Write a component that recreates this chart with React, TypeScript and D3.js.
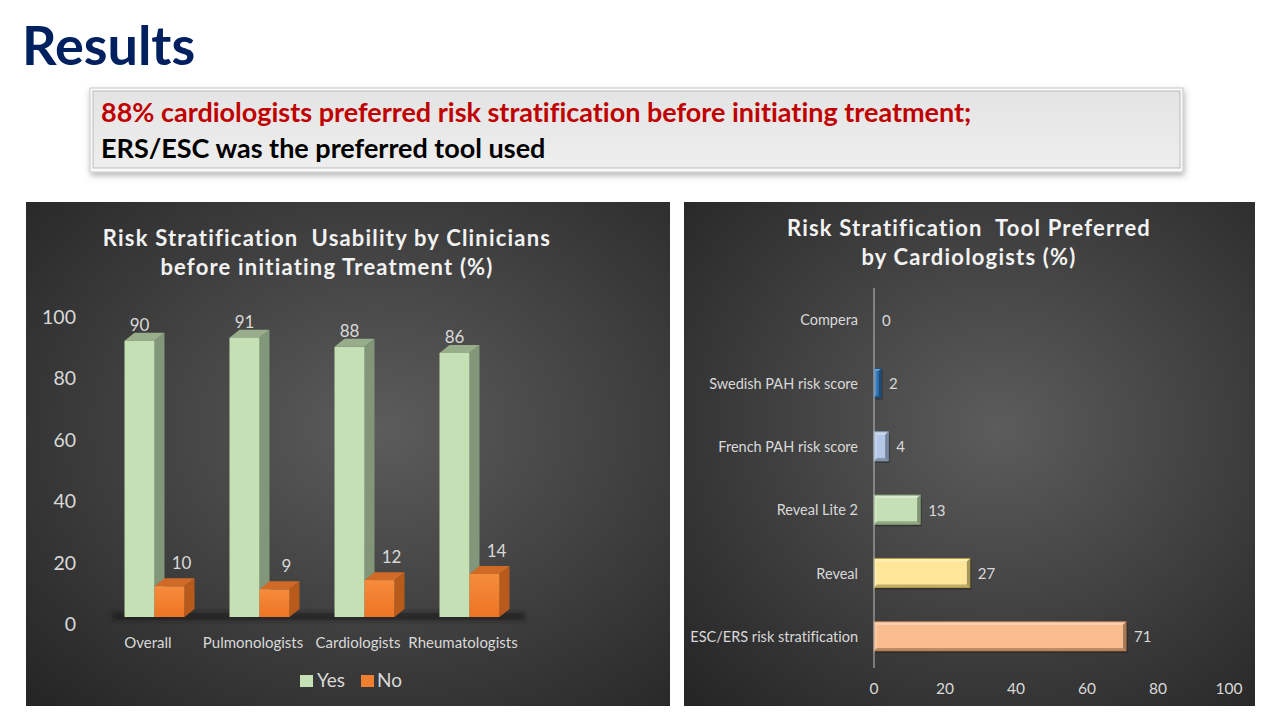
import React from 'react'
import * as d3 from 'd3'

// Left chart: usability of risk stratification by clinician group
const clinicianGroups = ['Overall', 'Pulmonologists', 'Cardiologists', 'Rheumatologists']
const yesValues = [90, 91, 88, 86]
const noValues = [10, 9, 12, 14]
const usabilityTicks = [0, 20, 40, 60, 80, 100]

// Right chart: preferred tool by cardiologists
const toolNames = [
  'Compera',
  'Swedish PAH risk score',
  'French PAH risk score',
  'Reveal Lite 2',
  'Reveal',
  'ESC/ERS risk stratification'
]
const toolValues = [0, 2, 4, 13, 27, 71]
const toolTicks = [0, 20, 40, 60, 80, 100]

const toolFill = ['#5b9bd5', '#2e75b6', '#b4c7e7', '#c5e0b4', '#ffe699', '#f9bc8e']
const toolEdge = ['#41719c', '#1f4e79', '#7f93b5', '#86a373', '#b59a3a', '#b7764c']

const FONT = 'Lato, "Open Sans", sans-serif'
const LABEL = '#d9d9d9'

const UsabilityChart: React.FC = () => {
  const floor = 617
  const x = d3.scaleBand().domain(clinicianGroups).range([95.5, 515.5])
  const y = d3.scaleLinear().domain([0, 100]).range([floor, 310])
  const barW = 30
  const dx = 10
  const dy = 8

  const bar3d = (bx: number, value: number, front: string, side: string, top: string) => {
    const ty = y(value)
    return (
      <g>
        <polygon
          points={`${bx + barW},${ty} ${bx + barW + dx},${ty - dy} ${bx + barW + dx},${floor - dy} ${bx + barW},${floor}`}
          fill={side}
        />
        <polygon points={`${bx},${ty} ${bx + dx},${ty - dy} ${bx + barW + dx},${ty - dy} ${bx + barW},${ty}`} fill={top} />
        <rect x={bx} y={ty} width={barW} height={floor - ty} fill={front} />
      </g>
    )
  }

  return (
    <g fontFamily={FONT}>
      <rect x={26} y={202} width={644} height={504} fill="url(#panelBg)" />
      <text x={327} y={246} textAnchor="middle" fill="#f2f2f2" fontSize={22} fontWeight={700} letterSpacing={1.2} style={{ whiteSpace: 'pre' }}>
        {'Risk Stratification  Usability by Clinicians'}
      </text>
      <text x={327} y={275} textAnchor="middle" fill="#f2f2f2" fontSize={22} fontWeight={700} letterSpacing={1.2}>
        before initiating Treatment (%)
      </text>

      {usabilityTicks.map((t) => (
        <text key={t} x={76} y={y(t) + 6.5} textAnchor="end" dominantBaseline="central" fill={LABEL} fontSize={19.5}>
          {t}
        </text>
      ))}

      <rect x={112} y={613} width={413} height={7} fill="#141414" opacity={0.7} filter="url(#blur)" />

      {clinicianGroups.map((g, i) => {
        const bx = x(g) ?? 0
        return (
          <g key={g}>
            {bar3d(bx + 29, yesValues[i], '#c5e0b4', '#82977a', '#98ad8a')}
            {bar3d(bx + 59, noValues[i], 'url(#orangeFront)', '#b85a1c', '#d06a26')}
            <text x={bx + 29 + barW / 2} y={y(yesValues[i]) - 16} textAnchor="middle" dominantBaseline="central" fill={LABEL} fontSize={17}>
              {yesValues[i]}
            </text>
            <text x={bx + 59 + barW - 3} y={y(noValues[i]) - 24} textAnchor="middle" dominantBaseline="central" fill={LABEL} fontSize={17}>
              {noValues[i]}
            </text>
            <text x={bx + x.bandwidth() / 2} y={648} textAnchor="middle" fill={LABEL} fontSize={15}>
              {g}
            </text>
          </g>
        )
      })}

      <rect x={300} y={675} width={13} height={12} fill="#c5e0b4" />
      <text x={317} y={687} fill={LABEL} fontSize={19}>
        Yes
      </text>
      <rect x={361} y={675} width={13} height={12} fill="#f08030" />
      <text x={377} y={687} fill={LABEL} fontSize={19}>
        No
      </text>
    </g>
  )
}

const ToolChart: React.FC = () => {
  const x = d3.scaleLinear().domain([0, 100]).range([874, 1229])
  const y = d3.scaleBand().domain(toolNames).range([288, 668]).paddingInner(0.54).paddingOuter(0.27)
  const bh = y.bandwidth()
  const b = 3

  return (
    <g fontFamily={FONT}>
      <rect x={684} y={202} width={571} height={504} fill="url(#panelBg)" />
      <text x={969} y={236} textAnchor="middle" fill="#f2f2f2" fontSize={22} fontWeight={700} letterSpacing={1.2} style={{ whiteSpace: 'pre' }}>
        {'Risk Stratification  Tool Preferred'}
      </text>
      <text x={969} y={265} textAnchor="middle" fill="#f2f2f2" fontSize={22} fontWeight={700} letterSpacing={1.2}>
        by Cardiologists (%)
      </text>

      {toolNames.map((name, i) => {
        const by = y(name) ?? 0
        const x0 = x(0)
        const w = x(toolValues[i]) - x0
        const bb = Math.min(b, w / 3)
        return (
          <g key={name}>
            <text x={858} y={by + bh / 2} textAnchor="end" dominantBaseline="central" fill={LABEL} fontSize={14.5}>
              {name}
            </text>
            {w > 0 && (
              <g>
                <rect x={x0 + 1.5} y={by + 2} width={w} height={bh} fill="#000" opacity={0.3} />
                <rect x={x0} y={by} width={w} height={bh} fill={toolFill[i]} />
                <polygon points={`${x0},${by} ${x0 + w},${by} ${x0 + w - bb},${by + bb} ${x0 + bb},${by + bb}`} fill="#fff" opacity={0.35} />
                <polygon points={`${x0},${by} ${x0 + bb},${by + bb} ${x0 + bb},${by + bh - bb} ${x0},${by + bh}`} fill="#fff" opacity={0.2} />
                <polygon
                  points={`${x0},${by + bh} ${x0 + bb},${by + bh - bb} ${x0 + w - bb},${by + bh - bb} ${x0 + w},${by + bh}`}
                  fill="#000"
                  opacity={0.25}
                />
                <polygon
                  points={`${x0 + w},${by} ${x0 + w},${by + bh} ${x0 + w - bb},${by + bh - bb} ${x0 + w - bb},${by + bb}`}
                  fill="#000"
                  opacity={0.35}
                />
                <rect x={x0} y={by} width={w} height={bh} fill="none" stroke={toolEdge[i]} strokeWidth={1} />
              </g>
            )}
            <text x={x(toolValues[i]) + 8} y={by + bh / 2} dominantBaseline="central" fill={LABEL} fontSize={15}>
              {toolValues[i]}
            </text>
          </g>
        )
      })}

      <line x1={x(0)} x2={x(0)} y1={288} y2={668} stroke="#bfbfbf" strokeWidth={1} />

      {toolTicks.map((t) => (
        <text key={t} x={x(t)} y={694} textAnchor="middle" fill={LABEL} fontSize={15.5}>
          {t}
        </text>
      ))}
    </g>
  )
}

export default function App() {
  return (
    <div style={{ position: 'absolute', left: 0, top: 0 }}>
      <svg width={1280} height={720} style={{ display: 'block', background: '#fff', fontVariantLigatures: 'none' }}>
        <defs>
          <radialGradient id="panelBg" cx="55%" cy="45%" r="75%">
            <stop offset="0%" stopColor="#5c5c5c" />
            <stop offset="100%" stopColor="#262626" />
          </radialGradient>
          <linearGradient id="orangeFront" x1="0" y1="0" x2="0" y2="1">
            <stop offset="0%" stopColor="#f58c3c" />
            <stop offset="100%" stopColor="#ee7424" />
          </linearGradient>
          <linearGradient id="boxBg" x1="0" y1="0" x2="0" y2="1">
            <stop offset="0%" stopColor="#e4e4e4" />
            <stop offset="100%" stopColor="#eeeeee" />
          </linearGradient>
          <filter id="blur" x="-10%" y="-100%" width="120%" height="300%">
            <feGaussianBlur stdDeviation="2.5" />
          </filter>
          <filter id="boxShadow" x="-5%" y="-20%" width="110%" height="150%">
            <feDropShadow dx="1" dy="3" stdDeviation="3" floodColor="#000" floodOpacity="0.3" />
          </filter>
        </defs>

        <text x={22} y={65} fill="#002060" fontFamily={FONT} fontWeight={700} fontSize={54}>
          Results
        </text>

        <rect x={90} y={88} width={1093} height={84} fill="#fafafa" stroke="#c8c8c8" filter="url(#boxShadow)" />
        <rect x={93} y={91} width={1087} height={77} fill="url(#boxBg)" stroke="#b0b0b0" strokeWidth={0.8} />
        <text x={101} y={122} fill="#c00000" fontFamily={FONT} fontWeight={700} fontSize={27}>
          88% cardiologists preferred risk stratification before initiating treatment;
        </text>
        <text x={101} y={158} fill="#000" fontFamily={FONT} fontWeight={700} fontSize={27}>
          ERS/ESC was the preferred tool used
        </text>

        <UsabilityChart />
        <ToolChart />
      </svg>
    </div>
  )
}
